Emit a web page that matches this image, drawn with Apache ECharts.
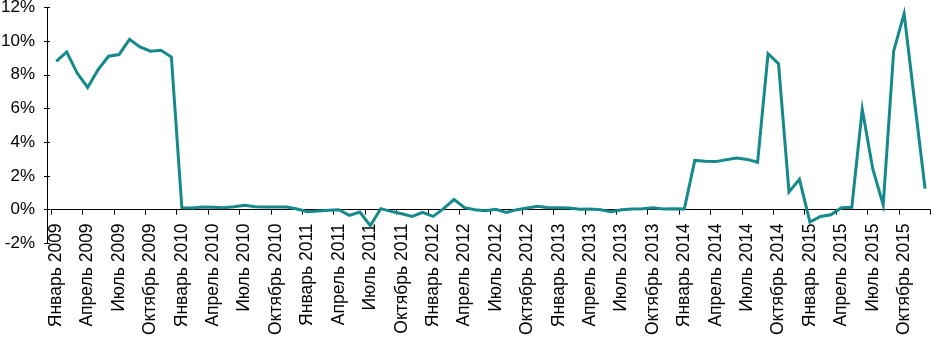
<!DOCTYPE html>
<html>
<head>
<meta charset="utf-8">
<script src="https://cdn.jsdelivr.net/npm/echarts@6/dist/echarts.min.js"></script>
<style>html,body{margin:0;padding:0;background:#fff}#c{width:931px;height:340px}</style>
</head>
<body>
<div id="c"></div>
<script>
var monthNames = ['Январь','Февраль','Март','Апрель','Май','Июнь','Июль','Август','Сентябрь','Октябрь','Ноябрь','Декабрь'];
var years = [2009, 2010, 2011, 2012, 2013, 2014, 2015];
var values2009 = [8.8, 9.35, 8.1, 7.25, 8.3, 9.1, 9.2, 10.1, 9.65, 9.4, 9.45, 9.05];
var values2010 = [0.12, 0.1, 0.16, 0.14, 0.12, 0.18, 0.26, 0.18, 0.16, 0.16, 0.16, 0.04];
var values2011 = [-0.12, -0.08, -0.04, 0.0, -0.34, -0.14, -0.95, 0.06, -0.1, -0.24, -0.4, -0.16];
var values2012 = [-0.4, 0.06, 0.6, 0.12, 0.0, -0.06, 0.02, -0.16, 0.0, 0.1, 0.2, 0.12];
var values2013 = [0.12, 0.1, 0.02, 0.04, 0.0, -0.12, 0.0, 0.04, 0.06, 0.12, 0.04, 0.06];
var values2014 = [0.04, 2.92, 2.87, 2.85, 2.96, 3.06, 2.98, 2.81, 9.25, 8.66, 1.05, 1.8];
var values2015 = [-0.73, -0.4, -0.3, 0.12, 0.14, 5.95, 2.43, 0.28, 9.4, 11.62, 6.4, 1.25];
var yTicks = [-2, 0, 2, 4, 6, 8, 10, 12];

var categories = [];
years.forEach(function (y) { monthNames.forEach(function (m) { categories.push(m + ' ' + y); }); });
var values = [].concat(values2009, values2010, values2011, values2012, values2013, values2014, values2015);

var chart = echarts.init(document.getElementById('c'), null, {renderer: 'canvas'});
var font = 'Liberation Sans, Arial, sans-serif';
var yBase = {
  type: 'value', min: yTicks[0], max: yTicks[yTicks.length - 1], interval: 2,
  position: 'left', offset: 4, splitLine: {show: false}
};
chart.setOption({
  animation: false,
  grid: {left: 51, right: 0.7, top: 7.3, bottom: 96.6, containLabel: false, outerBoundsMode: 'none'},
  xAxis: [{
    type: 'category', data: categories, boundaryGap: true,
    axisLine: {onZero: true, lineStyle: {color: '#000', width: 1}},
    axisTick: {show: true, interval: 2, length: 5, lineStyle: {color: '#000'}},
    axisLabel: {show: false},
    splitLine: {show: false}
  }, {
    type: 'category', data: categories, boundaryGap: true, position: 'bottom',
    axisLine: {show: false, onZero: false},
    axisTick: {show: false},
    axisLabel: {interval: 2, rotate: 90, margin: -20, color: '#000', fontSize: 17.5, fontFamily: font},
    splitLine: {show: false}
  }],
  yAxis: [
    Object.assign({}, yBase, {
      axisLine: {show: true, onZero: false, lineStyle: {color: '#000', width: 1}},
      axisTick: {show: true, length: 3, lineStyle: {color: '#000'}},
      axisLabel: {margin: 12, color: '#000', fontSize: 17, fontFamily: font,
        formatter: function (v) { return v + '%'; }}
    }),
    Object.assign({}, yBase, {
      axisLine: {show: false},
      axisTick: {show: true, inside: true, length: 3, lineStyle: {color: '#000'}},
      axisLabel: {show: false}
    })
  ],
  series: [{
    type: 'line', data: values, xAxisIndex: 0, yAxisIndex: 0,
    symbol: 'none', smooth: false,
    lineStyle: {color: '#15898b', width: 3, join: 'miter'}
  }]
});
</script>
</body>
</html>
